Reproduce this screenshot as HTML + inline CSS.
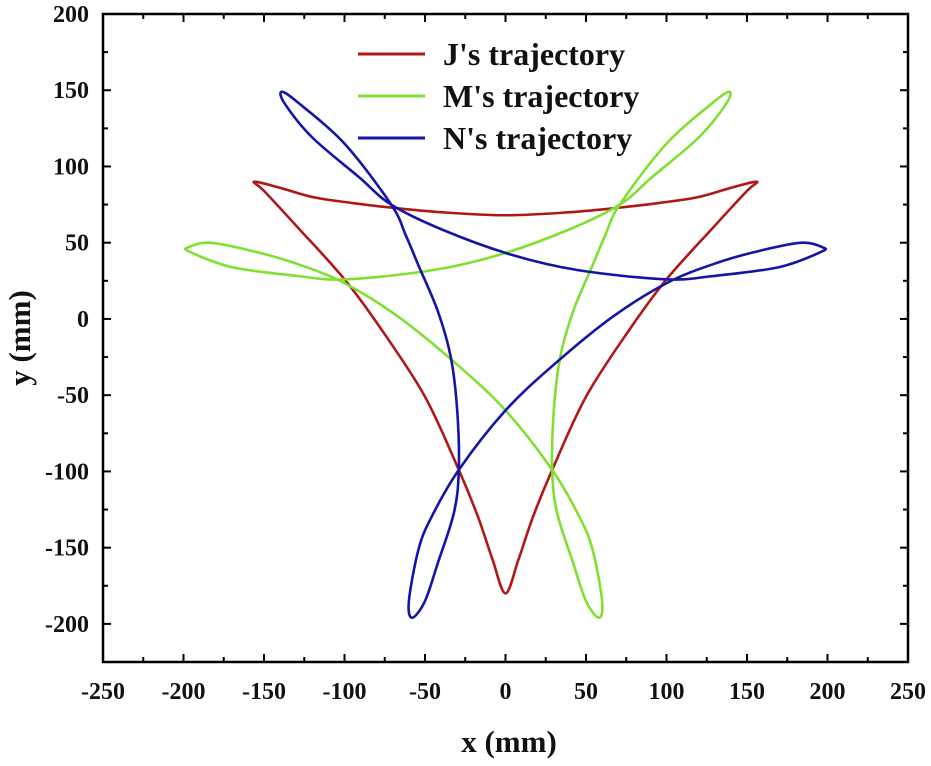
<!DOCTYPE html>
<html><head><meta charset="utf-8"><style>
body{margin:0;background:#fff}
svg text{font-family:"Liberation Serif",serif;font-weight:bold;fill:#111}
</style></head><body>
<svg id="c" width="931" height="761"></svg>
<script>
const xTicks=[-250,-200,-150,-100,-50,0,50,100,150,200,250];
const yTicks=[-200,-150,-100,-50,0,50,100,150,200];
const seriesNames=["J's trajectory","M's trajectory","N's trajectory"];
const jX=[0,8,17,29,50,77,100,129,150,156,140,120,95,71,40,0,-40,-71,-95,-120,-140,-156,-150,-129,-100,-77,-50,-29,-17,-8];
const jY=[-180,-158,-130,-99,-51,-7,26,60,84,90,86,80,76,73,70,68,70,73,76,80,86,90,84,60,26,-7,-51,-99,-130,-158];
const mX=[-197,-184,-159,-132,-101,-66,-30,0,29,46,54,60,58,50,42,32,29,30,34,42,54,62,71,100,129,139,137,120,91,71,38,-4,-45,-99,-128,-170,-196];
const mY=[47,50,45,37,24,1,-30,-60,-99,-130,-151,-185,-196,-185,-160,-127,-99,-60,-25,5,35,55,75,115,142,149,141,119,93,75,58,42,32,26,28,34,44];
const nX=[197,184,159,132,101,66,30,0,-29,-46,-54,-60,-58,-50,-42,-32,-29,-30,-34,-42,-54,-62,-71,-100,-129,-139,-137,-120,-91,-71,-38,4,45,99,128,170,196];
const nY=[47,50,45,37,24,1,-30,-60,-99,-130,-151,-185,-196,-185,-160,-127,-99,-60,-25,5,35,55,75,115,142,149,141,119,93,75,58,42,32,26,28,34,44];
const colors=["#b01818","#80e030","#1414a8"];
const L=103,R=908,T=14,B=662;
const sx=v=>L+(v+250)*(R-L)/500;
const sy=v=>T+(200-v)*(B-T)/425;
const svg=document.getElementById('c');
const NS='http://www.w3.org/2000/svg';
function mk(t,a){const e=document.createElementNS(NS,t);for(const k in a)e.setAttribute(k,a[k]);svg.appendChild(e);return e;}
function path(xs,ys){
  const n=xs.length,p=[];for(let i=0;i<n;i++)p.push([sx(xs[i]),sy(ys[i])]);
  let d='M'+p[0][0]+','+p[0][1];
  for(let i=0;i<n;i++){
    const p0=p[(i-1+n)%n],p1=p[i],p2=p[(i+1)%n],p3=p[(i+2)%n];
    const c1=[p1[0]+(p2[0]-p0[0])/6,p1[1]+(p2[1]-p0[1])/6];
    const c2=[p2[0]-(p3[0]-p1[0])/6,p2[1]-(p3[1]-p1[1])/6];
    d+='C'+c1[0]+','+c1[1]+' '+c2[0]+','+c2[1]+' '+p2[0]+','+p2[1];
  }
  return d+'Z';
}
xTicks.forEach((v,i)=>{
  const x=sx(v);
  let e=mk('line',{x1:x,x2:x,y1:B,y2:B-8,stroke:'#000','stroke-width':2});
  
  e=mk('line',{x1:x,x2:x,y1:T,y2:T+8,stroke:'#000','stroke-width':2});
  
  if(i<xTicks.length-1){const xm=sx(v+25);
    mk('line',{x1:xm,x2:xm,y1:B,y2:B-5,stroke:'#000','stroke-width':2});
    mk('line',{x1:xm,x2:xm,y1:T,y2:T+5,stroke:'#000','stroke-width':2});}
  const t=mk('text',{x:x,y:B+37,'text-anchor':'middle','font-size':24});t.textContent=v;
  
});
yTicks.forEach((v)=>{
  const y=sy(v);
  let e=mk('line',{x1:L,x2:L+8,y1:y,y2:y,stroke:'#000','stroke-width':2});
  
  mk('line',{x1:R,x2:R-8,y1:y,y2:y,stroke:'#000','stroke-width':2});
  const ym=sy(v-25);
  mk('line',{x1:L,x2:L+5,y1:ym,y2:ym,stroke:'#000','stroke-width':2});
  mk('line',{x1:R,x2:R-5,y1:ym,y2:ym,stroke:'#000','stroke-width':2});
  const t=mk('text',{x:89,y:y+8,'text-anchor':'end','font-size':24});t.textContent=v;
  
});
const fr=mk('rect',{x:L,y:T,width:R-L,height:B-T,fill:'none',stroke:'#000','stroke-width':2.5});

const data=[[jX,jY],[mX,mY],[nX,nY]];
const nm=['j-trajectory-line','m-trajectory-line','n-trajectory-line'];
data.forEach((s,i)=>{
  const p=mk('path',{d:path(s[0],s[1]),fill:'none',stroke:colors[i],'stroke-width':2.6,'stroke-linejoin':'round'});
  
});
seriesNames.forEach((s,i)=>{
  const y=54+i*42;
  const l=mk('line',{x1:358,x2:425,y1:y,y2:y,stroke:colors[i],'stroke-width':3});
  
  const t=mk('text',{x:443,y:y+11,'font-size':32});t.textContent=s;
  
});
let t=mk('text',{x:509,y:752,'text-anchor':'middle','font-size':31});t.textContent='x (mm)';

t=mk('text',{x:0,y:0,'text-anchor':'middle','font-size':31,transform:'translate(30,338) rotate(-90)'});t.textContent='y (mm)';

</script>
</body></html>
